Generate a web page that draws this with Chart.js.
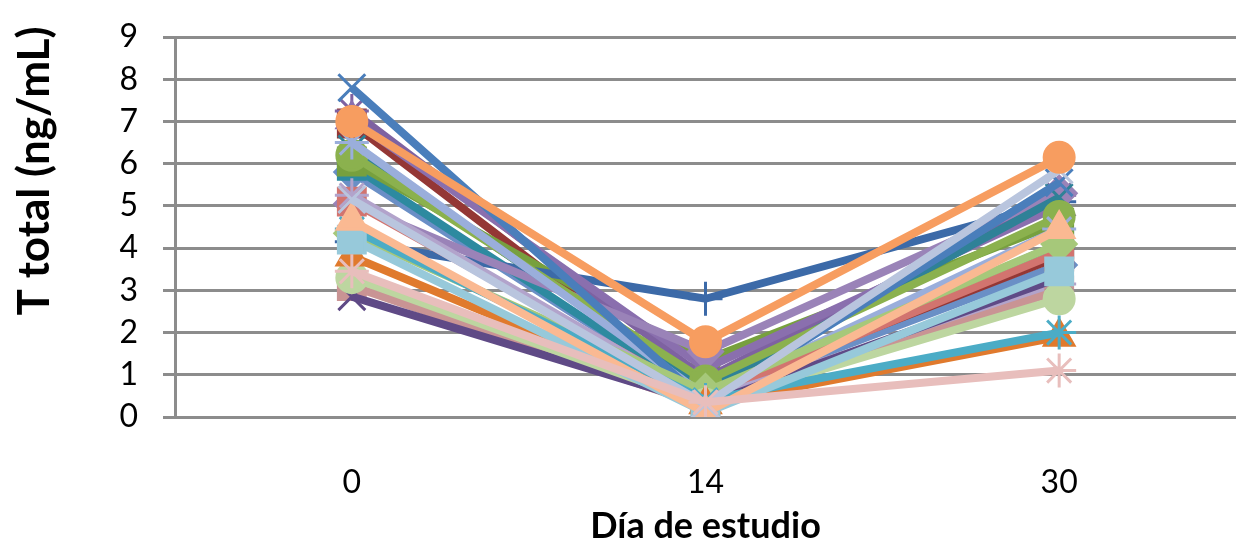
<!DOCTYPE html>
<html>
<head>
<meta charset="utf-8">
<script src="https://cdn.jsdelivr.net/npm/chart.js@4.4.0/dist/chart.umd.min.js"></script>
<style>
  body { margin: 0; background: #fff; }
  #wrap { width: 1236px; height: 543px; }
</style>
</head>
<body>
<div id="wrap"><canvas id="myChart" width="1236" height="543"></canvas></div>
<script>
const dias = ["0", "14", "30"];

// valores de T total por paciente (ng/mL)
const dia0  = [5.8, 6.95, 5.95, 6.05, 4.15, 7.25, 7.05, 5.05, 6.35, 6.2, 6.5, 7.8, 5.1, 5.25, 4.35, 3.1, 2.85, 3.3, 3.8, 4.45, 4.2, 4.65, 5.15, 3.45, 7.0];
const dia14 = [0.45, 0.55, 0.45, 1.35, 2.8, 0.9, 1.15, 1.55, 0.65, 0.85, 0.5, 0.35, 0.45, 0.4, 0.6, 0.25, 0.3, 0.3, 0.3, 0.4, 0.1, 0.1, 0.3, 0.35, 1.78];
const dia30 = [3.6, 3.8, 4.1, 4.6, 5.1, 5.25, 5.0, 5.3, 5.2, 4.75, 4.45, 5.55, 3.9, 3.15, 4.1, 3.0, 3.3, 2.8, 1.9, 2.0, 3.45, 4.45, 5.85, 1.1, 6.15];

const colores = ["#6A8FC6", "#943735", "#2D8AA0", "#77A03E", "#3C6AA8", "#7E62A1", "#8A6FAE", "#9A83B8", "#2F8197", "#8BB14E",
  "#9AAEDB", "#4A7EBB", "#D2746F", "#B2A3CB", "#A6C87A", "#C99494", "#5F4A86", "#BDD6A0", "#E07A2D", "#4BACC6",
  "#97C9DA", "#FAB992", "#B9C5DE", "#E8BEBC", "#F79D60"];
const marcadores = ["rectRot", "rect", "rect", "rect", "cross", "star", "triangle", "rectRot", "crossRot", "circle",
  "star", "crossRot", "rect", "star", "rectRot", "rect", "crossRot", "circle", "triangle", "star",
  "rect", "triangle", "crossRot", "star", "circle"];

const radios = { circle: 15, rect: 19, rectRot: 17, triangle: 17, crossRot: 19, cross: 17, star: 17 };

let datasets = dia0.map((v, i) => ({
  label: "Paciente " + (i + 1),
  data: [dia0[i], dia14[i], dia30[i]],
  borderColor: colores[i],
  backgroundColor: colores[i],
  pointBackgroundColor: colores[i],
  pointBorderColor: colores[i],
  pointStyle: marcadores[i],
  pointRadius: radios[marcadores[i]],
  pointBorderWidth: 3,
  borderWidth: 8,
  tension: 0,
  order: dia0.length - i, // como Excel: la ultima serie queda encima
}));

const tituloY = {
  id: "tituloY",
  afterDraw(chart) {
    const ctx = chart.ctx;
    ctx.save();
    ctx.translate(35, 171);
    ctx.rotate(-Math.PI / 2);
    ctx.font = "bold 44px Lato";
    ctx.fillStyle = "#000";
    ctx.textAlign = "center";
    ctx.textBaseline = "middle";
    ctx.fillText("T total (ng/mL)", 0, 0);
    ctx.restore();
  },
};

const ctx = document.getElementById("myChart").getContext("2d");
const chart = new Chart(ctx, {
  type: "line",
  data: { labels: dias, datasets: datasets },
  options: {
    responsive: false,
    animation: false,
    layout: { autoPadding: false, padding: { top: 37, right: 0, left: 0, bottom: 0 } },
    plugins: { legend: { display: false }, tooltip: { enabled: false } },
    scales: {
      x: {
        offset: true,
        grid: { display: false, drawTicks: false },
        border: { display: true, color: "#8c8c8c", width: 3 },
        ticks: { font: { family: "Lato", size: 32 }, color: "#000", padding: 46 },
        title: { display: true, text: "Día de estudio", font: { family: "Lato", size: 36, weight: "bold", lineHeight: 0.9 }, color: "#000", padding: { top: 0, bottom: 0 } },
        afterFit: (scale) => { scale.height = 126; },
      },
      y: {
        min: 0,
        max: 9,
        ticks: { stepSize: 1, font: { family: "Lato", size: 32 }, color: "#000", padding: 25 },
        grid: { color: "#8c8c8c", lineWidth: 3, tickLength: 12 },
        border: { display: true, color: "#8c8c8c", width: 3 },
        afterFit: (scale) => {
          scale.width = 175;
          scale.paddingTop = 0;
          scale.paddingBottom = 0;
        },
      },
    },
  },
  plugins: [tituloY],
});
</script>
</body>
</html>
